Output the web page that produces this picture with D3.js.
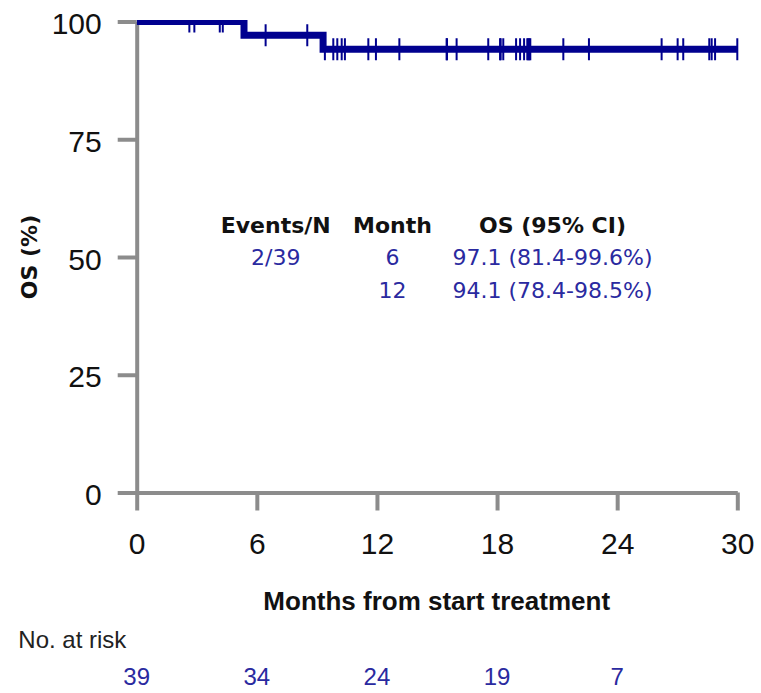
<!DOCTYPE html>
<html>
<head>
<meta charset="utf-8">
<script src="https://cdn.jsdelivr.net/npm/d3@7"></script>
<style>
  html, body { margin: 0; padding: 0; background: #fff; }
  svg { display: block; }
</style>
</head>
<body>
<svg id="chart" width="761" height="693"></svg>
<script>
// Kaplan–Meier overall survival: event times (months) and survival (%) after each event
const eventTimes = [5.36, 9.31];
const survivalAfter = [97.1, 94.1];

// Censored observations (months)
const censorTimes = [
  2.63, 2.88, 4.15, 4.30,
  6.44, 8.52,
  9.40, 9.82, 10.02, 10.24, 10.40, 11.57, 11.95,
  13.12, 15.48, 15.50, 15.98, 17.56,
  18.15, 18.18, 18.31, 18.95, 19.15, 19.35, 19.51, 19.56, 19.61, 19.66, 21.31, 22.59,
  26.22, 27.02, 27.30, 28.60, 28.72, 28.89, 30.0
];

// Axis ticks
const xTicks = [0, 6, 12, 18, 24, 30];
const yTicks = [0, 25, 50, 75, 100];

// Number at risk, at each x tick
const riskTimes = [0, 6, 12, 18, 24];
const riskCounts = [39, 34, 24, 19, 7];

// Summary table
const tableHeaders = ["Events/N", "Month", "OS (95% CI)"];
const tableRows = [
  ["2/39", "6", "97.1 (81.4-99.6%)"],
  ["", "12", "94.1 (78.4-98.5%)"]
];

const svg = d3.select("#chart");
const x = d3.scaleLinear().domain([0, 30]).range([136.7, 737.3]);
const y = d3.scaleLinear().domain([0, 100]).range([492.5, 21.5]);

const axisGrey = "#8c8c8c";
const curveBlue = "#00008f";
const textBlue = "#2a2aa0";
const sans = "'Liberation Sans', Arial, sans-serif";
const wide = "'DejaVu Sans', Verdana, sans-serif";

// Survival at time t (step function, right-continuous)
function survivalAt(t) {
  let s = 100;
  eventTimes.forEach((e, i) => { if (t >= e) s = survivalAfter[i]; });
  return s;
}

// Axes
const gx = svg.append("g")
  .attr("transform", `translate(0,${y(0)})`)
  .call(d3.axisBottom(x).tickValues(xTicks).tickSize(18).tickSizeOuter(0).tickFormat(d3.format("d")));
const gy = svg.append("g")
  .attr("transform", `translate(${x(0)},0)`)
  .call(d3.axisLeft(y).tickValues(yTicks).tickSize(19).tickSizeOuter(0).tickFormat(d3.format("d")));

[gx, gy].forEach(g => {
  g.selectAll("path.domain").attr("stroke", axisGrey).attr("stroke-width", 4);
  g.selectAll(".tick line").attr("stroke", axisGrey).attr("stroke-width", 4);
  g.selectAll(".tick text")
    .attr("fill", "#111")
    .style("font-family", sans)
    .style("font-size", "30px");
});
gx.selectAll(".tick text").attr("y", 40).attr("dy", "0.72em");
gy.selectAll(".tick text").attr("x", -35).attr("dy", "0.4em");

// Curve, clipped at the top of the plot
svg.append("clipPath").attr("id", "plotClip")
  .append("rect")
  .attr("x", x(0)).attr("y", y(100) - 1.5)
  .attr("width", x(30) - x(0) + 10).attr("height", y(0) - y(100) + 10);

const plot = svg.append("g").attr("clip-path", "url(#plotClip)");

const stepPoints = [[0, 100]];
eventTimes.forEach((e, i) => stepPoints.push([e, survivalAfter[i]]));
stepPoints.push([30, survivalAfter[survivalAfter.length - 1]]);

const line = d3.line()
  .x(d => x(d[0]))
  .y(d => y(d[1]))
  .curve(d3.curveStepAfter);

plot.append("path")
  .datum(stepPoints)
  .attr("d", line)
  .attr("fill", "none")
  .attr("stroke", curveBlue)
  .attr("stroke-width", 7)
  .attr("stroke-linejoin", "miter");

plot.selectAll("line.censor")
  .data(censorTimes)
  .join("line")
  .attr("class", "censor")
  .attr("x1", d => x(d)).attr("x2", d => x(d))
  .attr("y1", d => y(survivalAt(d)) - 11)
  .attr("y2", d => y(survivalAt(d)) + 11)
  .attr("stroke", curveBlue)
  .attr("stroke-width", 2);

// Axis titles
svg.append("text")
  .attr("transform", `translate(37,${y(50)}) rotate(-90)`)
  .attr("text-anchor", "middle")
  .style("font-family", wide)
  .style("font-weight", "bold")
  .style("font-size", "22px")
  .attr("fill", "#111")
  .text("OS (%)");

svg.append("text")
  .attr("x", 436.7).attr("y", 610)
  .attr("text-anchor", "middle")
  .style("font-family", sans)
  .style("font-weight", "bold")
  .style("font-size", "26px")
  .attr("fill", "#111")
  .text("Months from start treatment");

// Summary table
const colX = [275.7, 392.5, 552.5];
svg.selectAll("text.thead")
  .data(tableHeaders)
  .join("text")
  .attr("class", "thead")
  .attr("x", (d, i) => colX[i]).attr("y", 232.7)
  .attr("text-anchor", "middle")
  .style("font-family", wide)
  .style("font-weight", "bold")
  .style("font-size", "22px")
  .attr("fill", "#111")
  .text(d => d);

tableRows.forEach((row, r) => {
  svg.selectAll(`text.trow${r}`)
    .data(row)
    .join("text")
    .attr("class", `trow${r}`)
    .attr("x", (d, i) => colX[i]).attr("y", 265.3 + r * 33)
    .attr("text-anchor", "middle")
    .style("font-family", wide)
    .style("font-size", "22px")
    .attr("fill", textBlue)
    .text(d => d);
});

// Number at risk
svg.append("text")
  .attr("x", 18.3).attr("y", 648)
  .style("font-family", sans)
  .style("font-size", "24px")
  .attr("fill", "#222")
  .text("No. at risk");

svg.selectAll("text.risk")
  .data(riskCounts)
  .join("text")
  .attr("class", "risk")
  .attr("x", (d, i) => x(riskTimes[i])).attr("y", 685)
  .attr("text-anchor", "middle")
  .style("font-family", sans)
  .style("font-size", "24px")
  .attr("fill", textBlue)
  .text(d => d);
</script>
</body>
</html>
